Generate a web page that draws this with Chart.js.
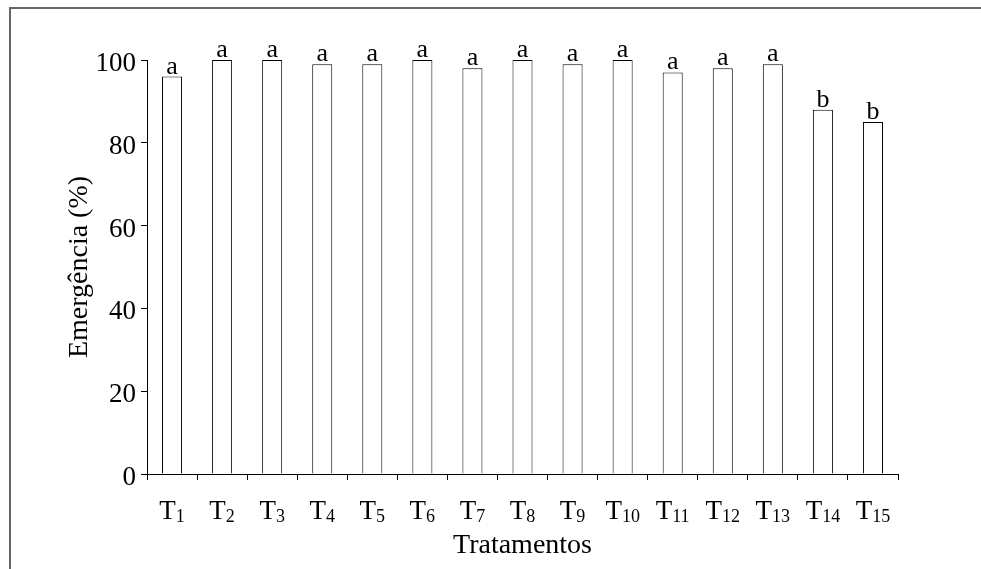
<!DOCTYPE html>
<html>
<head>
<meta charset="utf-8">
<script src="https://cdn.jsdelivr.net/npm/chart.js@4/dist/chart.umd.min.js"></script>
<style>
  html, body { margin: 0; padding: 0; background: #fff; }
  canvas { display: block; }
</style>
</head>
<body>
<canvas id="myChart" width="981" height="569"></canvas>
<script>
// treatments, emergence values and the letters over each bar
var labels = ['1', '2', '3', '4', '5', '6', '7', '8', '9', '10', '11', '12', '13', '14', '15'];
var values = [96, 100, 100, 99, 99, 100, 98, 100, 99, 100, 97, 98, 99, 88, 85];
var letters = ['a', 'a', 'a', 'a', 'a', 'a', 'a', 'a', 'a', 'a', 'a', 'a', 'a', 'b', 'b'];
var yTicks = [0, 20, 40, 60, 80, 100];

var serif = "'Liberation Serif', 'Times New Roman', serif";

// frame round the picture (only left and top edges show)
var framePlugin = {
    id: 'frame',
    beforeDraw: function (chart) {
        var ctx = chart.ctx;
        ctx.save();
        ctx.strokeStyle = '#666';
        ctx.lineWidth = 2;
        ctx.beginPath();
        ctx.moveTo(10, chart.height);
        ctx.lineTo(10, 8);
        ctx.lineTo(chart.width, 8);
        ctx.stroke();
        ctx.restore();
    }
};

// T with subscript number under each category, letters above the bars
var textPlugin = {
    id: 'texts',
    afterDraw: function (chart) {
        var ctx = chart.ctx;
        var xScale = chart.scales.x;
        var meta = chart.getDatasetMeta(0);
        ctx.save();
        ctx.fillStyle = '#000';
        ctx.textBaseline = 'alphabetic';
        labels.forEach(function (lab, i) {
            var x = xScale.getPixelForValue(i);
            ctx.font = '27px ' + serif;
            var wT = ctx.measureText('T').width;
            ctx.font = '18px ' + serif;
            var wS = ctx.measureText(lab).width;
            var left = x - (wT + wS) / 2;
            ctx.textAlign = 'left';
            ctx.font = '27px ' + serif;
            ctx.fillText('T', left, 519);
            ctx.font = '18px ' + serif;
            ctx.fillText(lab, left + wT, 522);

            var bar = meta.data[i];
            ctx.textAlign = 'center';
            ctx.font = '26px ' + serif;
            ctx.fillText(letters[i], bar.x, bar.y - 3);
        });
        ctx.restore();
    }
};

var ctx = document.getElementById('myChart').getContext('2d');
new Chart(ctx, {
    type: 'bar',
    data: {
        labels: labels,
        datasets: [{
            data: values,
            backgroundColor: '#fff',
            borderColor: '#000',
            borderWidth: 1,
            categoryPercentage: 1,
            barPercentage: 0.4
        }]
    },
    options: {
        responsive: false,
        animation: false,
        layout: {
            padding: { top: 60, right: 83, bottom: 0, left: 0 }
        },
        plugins: {
            legend: { display: false },
            tooltip: { enabled: false }
        },
        scales: {
            x: {
                offset: true,
                grid: {
                    display: true,
                    offset: true,
                    drawOnChartArea: false,
                    drawTicks: true,
                    tickLength: 6,
                    color: '#000'
                },
                border: { display: true, color: '#000' },
                ticks: { display: false },
                title: {
                    display: true,
                    text: 'Tratamentos',
                    color: '#000',
                    font: { family: serif, size: 28 },
                    padding: { top: 0, bottom: 7 }
                },
                afterFit: function (scale) {
                    scale.height = 95;
                }
            },
            y: {
                min: 0,
                max: 100,
                afterBuildTicks: function (scale) {
                    scale.ticks = yTicks.map(function (v) { return { value: v }; });
                },
                grid: {
                    display: true,
                    drawOnChartArea: false,
                    drawTicks: true,
                    tickLength: 6,
                    color: '#000'
                },
                border: { display: true, color: '#000' },
                ticks: {
                    color: '#000',
                    padding: 5,
                    labelOffset: 4,
                    font: { family: serif, size: 27 }
                },
                title: {
                    display: true,
                    text: 'Emergência (%)',
                    color: '#000',
                    font: { family: serif, size: 28 },
                    padding: { top: 63, bottom: 0 }
                },
                afterFit: function (scale) {
                    scale.width = 147;
                }
            }
        }
    },
    plugins: [framePlugin, textPlugin]
});
</script>
</body>
</html>
